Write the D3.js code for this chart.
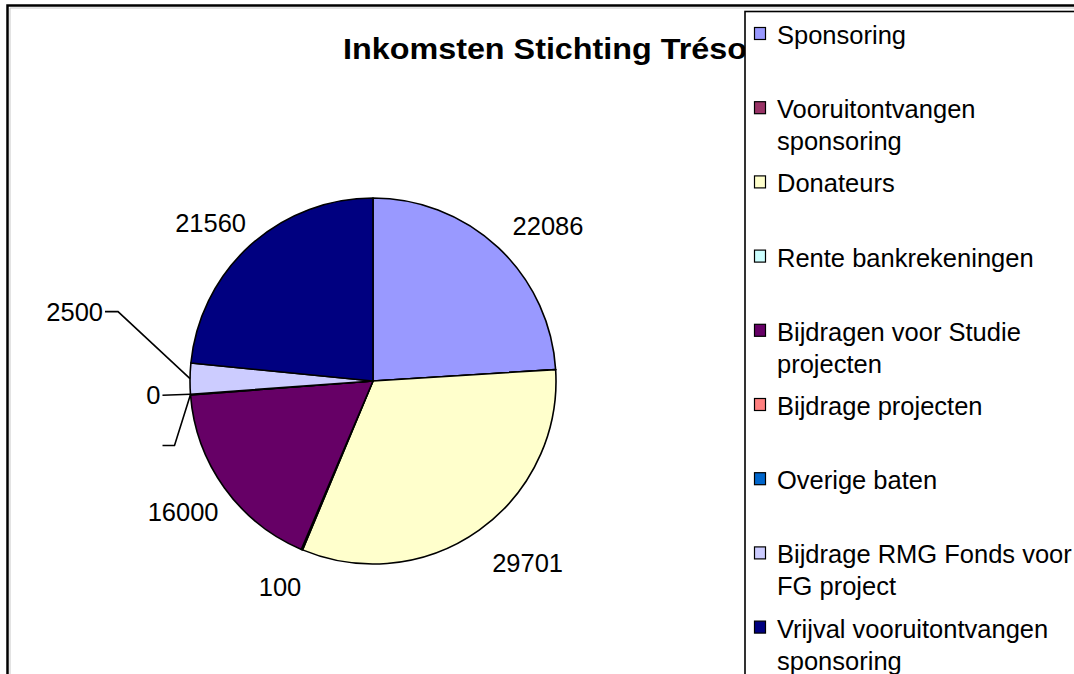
<!DOCTYPE html>
<html>
<head>
<meta charset="utf-8">
<script src="https://cdn.jsdelivr.net/npm/d3@7"></script>
<style>
  html, body { margin: 0; padding: 0; background: #fff; }
  svg { display: block; font-family: "Liberation Sans", Arial, sans-serif; }
</style>
</head>
<body>
<svg id="chart" width="1074" height="674"></svg>
<script>
// ---- data ----
const title = "Inkomsten Stichting Tréso";
const categories = [
  "Sponsoring",
  "Vooruitontvangen sponsoring",
  "Donateurs",
  "Rente bankrekeningen",
  "Bijdragen voor Studie projecten",
  "Bijdrage projecten",
  "Overige baten",
  "Bijdrage RMG Fonds voor FG project",
  "Vrijval vooruitontvangen sponsoring"
];
const values = [22086, 0, 29701, 100, 16000, 50, 0, 2500, 21560];
// text shown on each slice (null = no label drawn)
const labelTexts = ["22086", null, "29701", "100", "16000", "", "0", "2500", "21560"];
const colors = ["#9999FF", "#993366", "#FFFFCC", "#CCFFFF", "#660066", "#FF8080", "#0066CC", "#CCCCFF", "#000080"];

// ---- layout ----
const svg = d3.select("#chart");
const cx = 373, cy = 381, r = 183;
const fontSize = 25.5;

// chart area border
svg.append("rect").attr("x", 7.5).attr("y", 5.5).attr("width", 1200).attr("height", 800)
  .attr("fill", "#fff").attr("stroke", "#000").attr("stroke-width", 2.5);
svg.append("path").attr("d", "M10,1000V8H1200").attr("fill", "none").attr("stroke", "#c8c8c8").attr("stroke-width", 1);

// title
svg.append("text").attr("x", 343).attr("y", 58.5)
  .attr("font-size", 29).attr("font-weight", "bold")
  .attr("textLength", 404).attr("lengthAdjust", "spacingAndGlyphs")
  .text(title);

// pie
const data = categories.map((c, i) => ({ cat: c, value: values[i], label: labelTexts[i], color: colors[i] }));
const pie = d3.pie().value(d => d.value).sort(null);
const arcs = pie(data);
const arc = d3.arc().innerRadius(0).outerRadius(r);
const g = svg.append("g").attr("transform", `translate(${cx},${cy})`);
g.selectAll("path.slice").data(arcs).enter().append("path")
  .attr("class", "slice")
  .attr("d", arc)
  .attr("fill", d => d.data.color)
  .attr("stroke", "#000").attr("stroke-width", 1.6).attr("stroke-linejoin", "round");

// labels
const leaderOffsets = {
  "Bijdrage projecten": { dx: -16, dy: 51, tail: 12 },
  "Overige baten": { dx: -28, dy: 1, tail: 0 },
  "Bijdrage RMG Fonds voor FG project": { dx: -72, dy: -67, tail: 13 }
};
const labelLayer = svg.append("g").attr("font-size", fontSize).attr("fill", "#000");
arcs.forEach(a => {
  if (a.data.label === null) return;
  const mid = (a.startAngle + a.endAngle) / 2;
  const s = Math.sin(mid), c = Math.cos(mid);
  const lead = leaderOffsets[a.data.cat];
  if (lead) {
    const ex = cx + r * s, ey = cy - r * c;
    const bx = ex + lead.dx, by = ey + lead.dy;
    const tx = bx - lead.tail;
    labelLayer.append("path")
      .attr("d", `M${ex},${ey}L${bx},${by}L${tx},${by}`)
      .attr("fill", "none").attr("stroke", "#000").attr("stroke-width", 1.6);
    labelLayer.append("text").attr("x", tx - 2).attr("y", by).attr("dy", "0.35em")
      .attr("text-anchor", "end").text(a.data.label);
  } else {
    const gap = 12;
    const px = cx + (r + gap) * s, py = cy - (r + gap) * c;
    const t = labelLayer.append("text").text(a.data.label).attr("text-anchor", "middle").attr("dy", "0.35em");
    const w = t.node().getComputedTextLength();
    const lx = px + Math.sign(s) * w / 2 + (s > 0 ? 6 : 4);
    const ly = c > 0 ? py - 13 : py - c * 26 + 2;
    t.attr("x", lx).attr("y", ly);
  }
});

// legend
const legendX = 745, legendY = 11.5;
svg.append("rect").attr("x", legendX).attr("y", legendY).attr("width", 500).attr("height", 800)
  .attr("fill", "#fff").attr("stroke", "#000").attr("stroke-width", 1.6);
const legend = svg.append("g").attr("font-size", fontSize);
const rowStep = 74.2, lineStep = 32, firstBaseline = 44, textX = 777, wrapWidth = 312;
categories.forEach((cat, i) => {
  const base = firstBaseline + i * rowStep;
  legend.append("rect").attr("x", 754.5).attr("y", base - 16.5).attr("width", 11).attr("height", 12)
    .attr("fill", colors[i]).attr("stroke", "#000").attr("stroke-width", 1.2);
  const t = legend.append("text").attr("x", textX).attr("y", base);
  const words = cat.split(" ");
  let line = [], lineNo = 0;
  let tspan = t.append("tspan").attr("x", textX).attr("y", base);
  words.forEach(w => {
    line.push(w);
    tspan.text(line.join(" "));
    if (tspan.node().getComputedTextLength() > wrapWidth && line.length > 1) {
      line.pop();
      tspan.text(line.join(" "));
      line = [w];
      lineNo++;
      tspan = t.append("tspan").attr("x", textX).attr("y", base + lineNo * lineStep).text(w);
    }
  });
});
</script>
</body>
</html>
